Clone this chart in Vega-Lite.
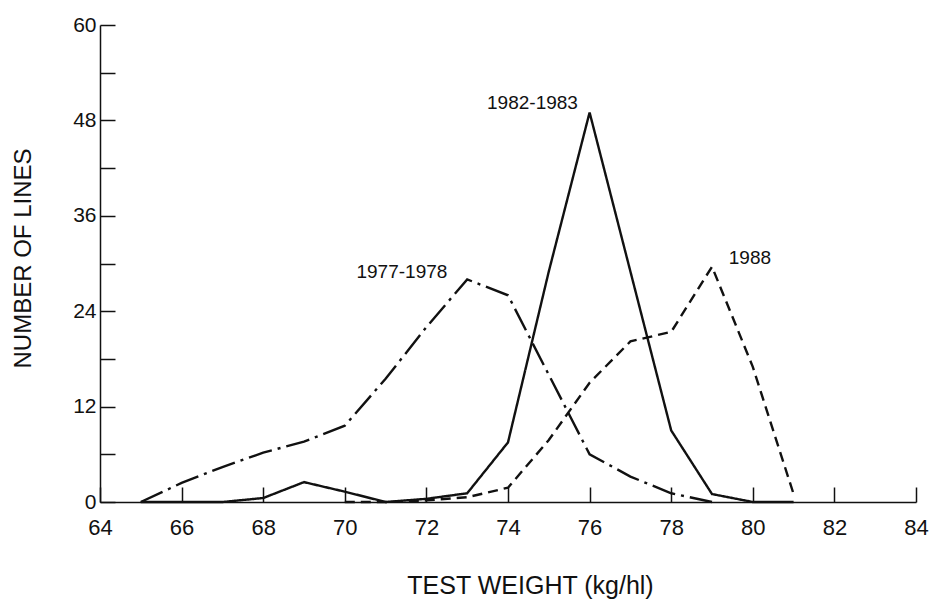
{
  "$schema": "https://vega.github.io/schema/vega-lite/v6.json",
  "width": 816,
  "height": 477,
  "autosize": "none",
  "padding": {"left": 100, "top": 25, "right": 17, "bottom": 99},
  "background": "white",
  "config": {
    "view": {"stroke": null},
    "font": "Liberation Sans",
    "axis": {"domainColor": "#111", "tickColor": "#111", "labelColor": "#111", "titleColor": "#111", "grid": false, "domainWidth": 1.5, "tickWidth": 1.5, "labelFont": "Liberation Sans", "titleFont": "Liberation Sans", "titleFontWeight": "normal"}
  },
  "datasets": {
    "curves": [
      {"period": "1977-1978", "weight": 65, "lines": 0},
      {"period": "1977-1978", "weight": 66, "lines": 2.4},
      {"period": "1977-1978", "weight": 67, "lines": 4.4},
      {"period": "1977-1978", "weight": 68, "lines": 6.2},
      {"period": "1977-1978", "weight": 69, "lines": 7.6},
      {"period": "1977-1978", "weight": 70, "lines": 9.6},
      {"period": "1977-1978", "weight": 71, "lines": 15.5},
      {"period": "1977-1978", "weight": 72, "lines": 22},
      {"period": "1977-1978", "weight": 73, "lines": 28},
      {"period": "1977-1978", "weight": 74, "lines": 26},
      {"period": "1977-1978", "weight": 75, "lines": 16},
      {"period": "1977-1978", "weight": 76, "lines": 6},
      {"period": "1977-1978", "weight": 77, "lines": 3.2},
      {"period": "1977-1978", "weight": 78, "lines": 1.1},
      {"period": "1977-1978", "weight": 79, "lines": 0},
      {"period": "1982-1983", "weight": 65, "lines": 0},
      {"period": "1982-1983", "weight": 66, "lines": 0},
      {"period": "1982-1983", "weight": 67, "lines": 0},
      {"period": "1982-1983", "weight": 68, "lines": 0.5},
      {"period": "1982-1983", "weight": 69, "lines": 2.5},
      {"period": "1982-1983", "weight": 70, "lines": 1.3},
      {"period": "1982-1983", "weight": 71, "lines": 0},
      {"period": "1982-1983", "weight": 72, "lines": 0.4},
      {"period": "1982-1983", "weight": 73, "lines": 1.1},
      {"period": "1982-1983", "weight": 74, "lines": 7.5},
      {"period": "1982-1983", "weight": 75, "lines": 29},
      {"period": "1982-1983", "weight": 76, "lines": 49},
      {"period": "1982-1983", "weight": 77, "lines": 29},
      {"period": "1982-1983", "weight": 78, "lines": 9},
      {"period": "1982-1983", "weight": 79, "lines": 1},
      {"period": "1982-1983", "weight": 80, "lines": 0},
      {"period": "1982-1983", "weight": 81, "lines": 0},
      {"period": "1988", "weight": 70, "lines": 0},
      {"period": "1988", "weight": 71, "lines": 0},
      {"period": "1988", "weight": 72, "lines": 0.2},
      {"period": "1988", "weight": 73, "lines": 0.6},
      {"period": "1988", "weight": 74, "lines": 1.8},
      {"period": "1988", "weight": 75, "lines": 7.8},
      {"period": "1988", "weight": 76, "lines": 15},
      {"period": "1988", "weight": 77, "lines": 20.2},
      {"period": "1988", "weight": 78, "lines": 21.4},
      {"period": "1988", "weight": 79, "lines": 29.6},
      {"period": "1988", "weight": 80, "lines": 17},
      {"period": "1988", "weight": 81, "lines": 1}
    ],
    "labels": [
      {"label": "1977-1978", "weight": 71.4, "lines": 28.9},
      {"label": "1982-1983", "weight": 74.6, "lines": 50.2},
      {"label": "1988", "weight": 79.93, "lines": 30.7}
    ]
  },
  "layer": [
    {
      "data": {"name": "curves"},
      "mark": {"type": "line", "color": "#111", "strokeWidth": 2.4, "clip": false},
      "encoding": {
        "x": {
          "field": "weight", "type": "quantitative",
          "scale": {"domain": [64, 84], "nice": false, "zero": false},
          "axis": {
            "title": "TEST WEIGHT (kg/hl)",
            "values": [64, 66, 68, 70, 72, 74, 76, 78, 80, 82, 84],
            "tickSize": -15,
            "labelFontSize": 22,
            "labelPadding": 30,
            "labelFlush": false,
            "labelOverlap": false,
            "titleFontSize": 25,
            "titlePadding": 35,
            "titleX": 430
          }
        },
        "y": {
          "field": "lines", "type": "quantitative",
          "scale": {"domain": [0, 60], "nice": false},
          "axis": {
            "title": "NUMBER OF LINES",
            "values": [0, 6, 12, 18, 24, 30, 36, 42, 48, 54, 60],
            "labelExpr": "datum.value % 12 === 0 ? datum.label : ''",
            "tickSize": -15,
            "labelFontSize": 21,
            "labelPadding": 19,
            "labelFlush": false,
            "labelOverlap": false,
            "titleFontSize": 24,
            "titleBaseline": "middle",
            "titleX": -77,
            "titleY": 233
          }
        },
        "detail": {"field": "period"},
        "strokeDash": {
          "field": "period", "type": "nominal",
          "scale": {"domain": ["1977-1978", "1982-1983", "1988"], "range": [[24, 6, 3, 6], [1, 0], [10, 6]]},
          "legend": null
        }
      }
    },
    {
      "data": {"name": "labels"},
      "mark": {"type": "text", "fontSize": 19, "color": "#111", "align": "center", "baseline": "middle"},
      "encoding": {
        "x": {"field": "weight", "type": "quantitative"},
        "y": {"field": "lines", "type": "quantitative"},
        "text": {"field": "label"}
      }
    }
  ]
}
